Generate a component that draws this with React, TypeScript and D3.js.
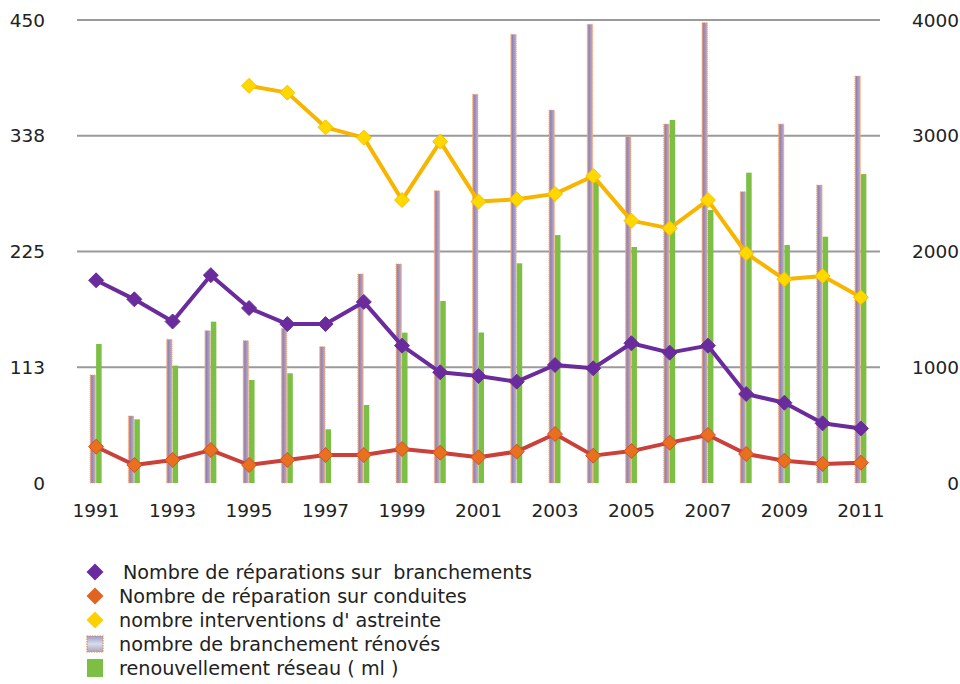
import React from "react";
import * as d3 from "d3";

const years = d3.range(1991, 2012).map(String);
const yearLabels = ["1991", "1993", "1995", "1997", "1999", "2001", "2003", "2005", "2007", "2009", "2011"];
const leftTicks = [0, 113, 225, 338, 450];
const rightTicks = [0, 1000, 2000, 3000, 4000];

const reparationsBranchements = [197, 178.5, 157, 202, 170, 154.5, 154.5, 176, 133.5, 107.6, 104, 98.5, 114.7, 111.5, 135.8, 126.7, 133.5, 86.5, 78, 58, 53];
const reparationsConduites = [35.3, 17.5, 22.4, 32, 17.5, 22.4, 27.2, 27.2, 33, 29.5, 25, 30.5, 47.6, 26.6, 31, 39.2, 46.7, 28.2, 21.7, 18.5, 19.7];
const interventionsAstreinte: (number | null)[] = [null, null, null, null, 386, 379.4, 345.7, 335.7, 275, 331.8, 273.5, 275.7, 281, 298.4, 255, 247.5, 275, 223.3, 198, 201.2, 180.5];
const branchementsRenoves = [933, 579, 1241, 1316, 1230, 1335, 1178, 1806, 1892, 2525, 3358, 3876, 3222, 3963, 2992, 3101, 3977, 2517, 3101, 2574, 3516];
const renouvellementReseau = [1201, 550, 1014, 1394, 890, 948, 464, 674, 1299, 1572, 1300, 1898, 2142, 2600, 2039, 3136, 2358, 2681, 2056, 2128, 2669];

const legendItems = [
  { label: "Nombre de réparations sur  branchements", kind: "diamond", color: "#6a2c9c" },
  { label: "Nombre de réparation sur conduites", kind: "diamond", color: "#e0631f" },
  { label: "nombre interventions d' astreinte", kind: "diamond", color: "#ffd000" },
  { label: "nombre de branchement rénovés", kind: "barA", color: "" },
  { label: "renouvellement réseau ( ml )", kind: "barB", color: "#7dbf45" },
];

const W = 960;
const H = 684;
const x0 = 77;
const x1 = 880;
const yTop = 20;
const yBot = 483;
const FONT = "'DejaVu Sans', Verdana, sans-serif";

function diamondPath(cx: number, cy: number, r: number) {
  return `M${cx},${cy - r}L${cx + r},${cy}L${cx},${cy + r}L${cx - r},${cy}Z`;
}

export default function App() {
  const x = d3.scaleBand<string>().domain(years).range([x0, x1]).padding(0);
  const yL = d3.scaleLinear().domain([0, 450]).range([yBot, yTop]);
  const yR = d3.scaleLinear().domain([0, 4000]).range([yBot, yTop]);
  const cx = (y: string) => (x(y) as number) + x.bandwidth() / 2;

  const lineGen = d3
    .line<{ y: string; v: number | null }>()
    .defined((d) => d.v != null)
    .x((d) => cx(d.y))
    .y((d) => yL(d.v as number));

  const lineSeries = [
    { values: reparationsBranchements as (number | null)[], stroke: "#6a2c9c", fill: "#6a2c9c", mstroke: "#6a2c9c" },
    { values: reparationsConduites as (number | null)[], stroke: "#c9413a", fill: "#e8701e", mstroke: "#d2502c" },
    { values: interventionsAstreinte, stroke: "#f7b500", fill: "#ffd800", mstroke: "#f7c000" },
  ];

  const bw = 5.5;

  return (
    <svg width={W} height={H} style={{ position: "absolute", left: 0, top: 0, background: "#fff" }} fontFamily={FONT}>
      <defs>
        <linearGradient id="gBar" x1="0" y1="0" x2="1" y2="0">
          <stop offset="0" stopColor="#f3a779" />
          <stop offset="0.3" stopColor="#8f83b3" />
          <stop offset="0.7" stopColor="#a89cc8" />
          <stop offset="1" stopColor="#f3a779" />
        </linearGradient>
        <linearGradient id="gLeg" x1="0" y1="0" x2="0" y2="1">
          <stop offset="0" stopColor="#9a9ccc" />
          <stop offset="0.5" stopColor="#d8dcea" />
          <stop offset="1" stopColor="#a9a3b8" />
        </linearGradient>
      </defs>
      <rect width={W} height={H} fill="#fff" />
      {/* gridlines */}
      {[1, 2, 3, 4].map((k) => (
        <line key={k} x1={x0} x2={x1} y1={yL((450 / 4) * k)} y2={yL((450 / 4) * k)} stroke="#9a9a9a" strokeWidth={2} />
      ))}
      {/* left ticks labels */}
      {leftTicks.map((t, i) => (
        <text key={t} x={45} y={yL((450 / 4) * i)} dy="0.36em" textAnchor="end" fontSize={18.5} fill="#222">
          {t}
        </text>
      ))}
      {rightTicks.map((t) => (
        <text key={t} x={959} y={yR(t)} dy="0.36em" textAnchor="end" fontSize={18.5} fill="#222">
          {t}
        </text>
      ))}
      {/* bars */}
      {years.map((y, i) => (
        <g key={y}>
          <rect x={cx(y) - bw - 0.5} y={yR(branchementsRenoves[i])} width={bw} height={yBot - yR(branchementsRenoves[i])} fill="url(#gBar)" stroke="#f4a46e" strokeWidth={0.8} strokeDasharray="1,1" />
          <rect x={cx(y)} y={yR(renouvellementReseau[i])} width={bw} height={yBot - yR(renouvellementReseau[i])} fill="#7dbf45" />
        </g>
      ))}
      {/* lines */}
      {lineSeries.map((s, si) => {
        const data = years.map((y, i) => ({ y, v: s.values[i] }));
        return (
          <g key={si}>
            <path d={lineGen(data) || ""} fill="none" stroke={s.stroke} strokeWidth={4} strokeLinejoin="round" />
            {data.filter((d) => d.v != null).map((d) => (
              <path key={d.y} d={diamondPath(cx(d.y), yL(d.v as number), 7.5)} fill={s.fill} stroke={s.mstroke} strokeWidth={1} />
            ))}
          </g>
        );
      })}
      {/* x labels */}
      {yearLabels.map((y) => (
        <text key={y} x={cx(y)} y={510} dy="0.36em" textAnchor="middle" fontSize={18.5} fill="#222">
          {y}
        </text>
      ))}
      {/* legend */}
      {legendItems.map((it, i) => {
        const cy = 572 + i * 24;
        return (
          <g key={i}>
            {it.kind === "diamond" && <path d={diamondPath(95, cy, 8.5)} fill={it.color} />}
            {it.kind === "barA" && <rect x={87} y={cy - 8} width={16} height={16} fill="url(#gLeg)" stroke="#e48a5a" strokeWidth={1.2} strokeDasharray="1.5,1" />}
            {it.kind === "barB" && <rect x={87} y={cy - 9} width={16} height={18} fill={it.color} />}
            <text x={i === 0 ? 123 : 119} y={cy} dy="0.36em" fontSize={19.2} fill="#222" style={{ whiteSpace: "pre" }}>
              {it.label}
            </text>
          </g>
        );
      })}
    </svg>
  );
}
